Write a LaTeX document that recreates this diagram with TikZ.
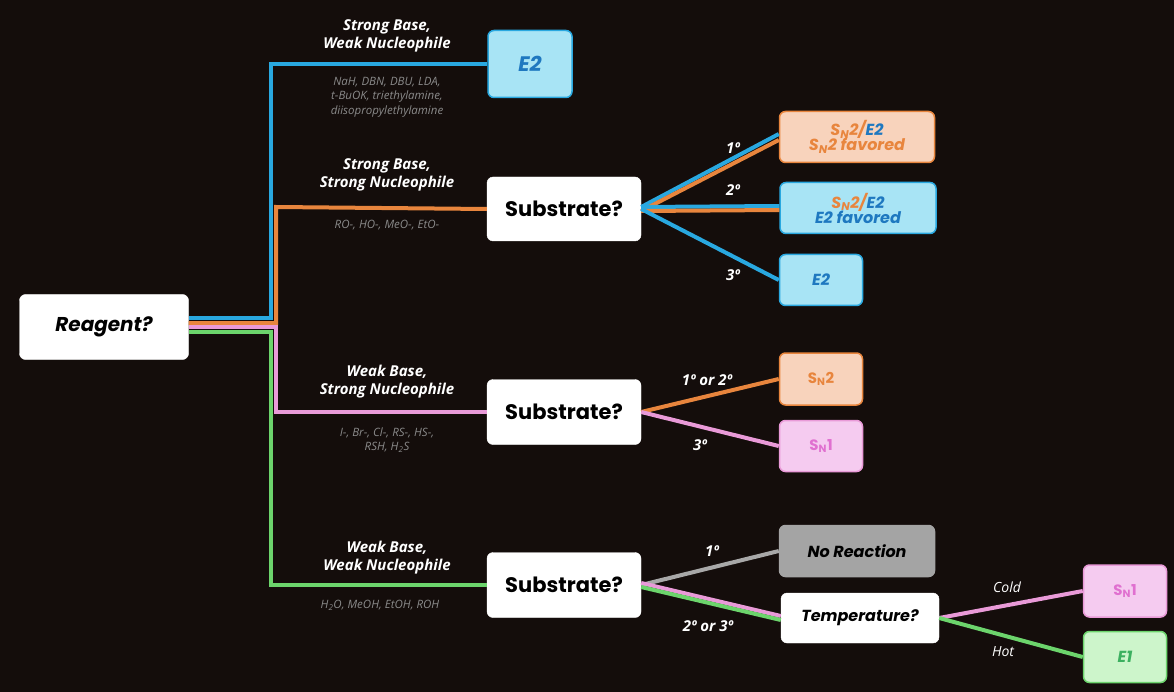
\documentclass[tikz,border=0pt]{standalone}
\usepackage{fontspec}
\setmainfont{Poppins}
\newfontfamily\lab{Open Sans}
\begin{document}
\definecolor{bg}{HTML}{140D0B}
\definecolor{cb}{HTML}{29A8E0}
\definecolor{co}{HTML}{E8853D}
\definecolor{cp}{HTML}{E99AD8}
\definecolor{cg}{HTML}{6CD46C}
\definecolor{cgr}{HTML}{A8A8A8}
\definecolor{fb}{HTML}{A8E4F5}
\definecolor{fo}{HTML}{F8D3BC}
\definecolor{fp}{HTML}{F5CBF0}
\definecolor{fg}{HTML}{CDF5CB}
\definecolor{fgr}{HTML}{A4A4A4}
\definecolor{tb}{HTML}{1E78C0}
\definecolor{tp}{HTML}{E070D0}
\definecolor{tg}{HTML}{3CB060}
\definecolor{gt}{HTML}{8A8A8A}
\begin{tikzpicture}[x=1pt,y=-1pt,
 box/.style={draw=#1,line width=1.5pt,rounded corners=6pt,inner sep=0pt,align=center},
 q/.style={fill=white,draw=white,rounded corners=6pt,inner sep=0pt,font=\fontsize{21}{24}\selectfont\bfseries},
 ln/.style={line width=4pt},
 lbl/.style={text=white,font=\lab\fontsize{15}{18}\selectfont\itshape\bfseries,align=center},
 sm/.style={text=gt,font=\lab\fontsize{11.5}{14.5}\selectfont\itshape,align=center},
 res/.style={font=\fontsize{16}{18}\selectfont\bfseries\itshape}]
\fill[bg] (0,0) rectangle (1174,692);
\useasboundingbox (0,0) rectangle (1174,692);
\node[q,minimum width=169,minimum height=65,font=\fontsize{20}{24}\selectfont\bfseries\itshape] (reag) at (104,327) {Reagent?};
\node[box=cb,fill=fb,minimum width=84,minimum height=67,text=tb,font=\fontsize{21}{24}\selectfont\bfseries\itshape] (e2a) at (530,64) {E2};
\node[q,minimum width=154,minimum height=64] (s1) at (564,209) {Substrate?};
\node[q,minimum width=154,minimum height=65] (s2) at (564,412) {Substrate?};
\node[q,minimum width=154,minimum height=65] (s3) at (564,585) {Substrate?};
\node[box=co,fill=fo,minimum width=155,minimum height=51,res] (r1) at (857,137) {\textcolor{co}{S\textsubscript{N}2/}\textcolor{tb}{E2}\\[-3pt]\textcolor{co}{S\textsubscript{N}2 favored}};
\node[box=cb,fill=fb,minimum width=156,minimum height=51,res] (r2) at (858,208) {\textcolor{co}{S\textsubscript{N}2/}\textcolor{tb}{E2}\\[-3pt]\textcolor{tb}{E2 favored}};
\node[box=cb,fill=fb,minimum width=83,minimum height=51,res,text=tb] (r3) at (821,280) {E2};
\node[box=co,fill=fo,minimum width=83,minimum height=52,text=co,font=\fontsize{15}{17}\selectfont\bfseries] (r4) at (821,379) {S\textsubscript{N}2};
\node[box=cp,fill=fp,minimum width=83,minimum height=51,text=tp,font=\fontsize{15}{17}\selectfont\bfseries] (r5) at (821,446) {S\textsubscript{N}1};
\node[box=fgr,fill=fgr,minimum width=155,minimum height=51,text=black,font=\fontsize{16}{18}\selectfont\bfseries\itshape] (nr) at (857,551) {No Reaction};
\node[q,minimum width=158,minimum height=50,font=\fontsize{16}{18}\selectfont\bfseries\itshape] (temp) at (860,618) {Temperature?};
\node[box=cp,fill=fp,minimum width=83,minimum height=52,text=tp,font=\fontsize{15}{17}\selectfont\bfseries] (r6) at (1125,591) {S\textsubscript{N}1};
\node[box=cg,fill=fg,minimum width=83,minimum height=51,res,text=tg] (r7) at (1125,657) {E1};
% trunk
\draw[ln,cb] ([yshift=9]reag.east) -| (271,64) -- (e2a.west);
\draw[ln,co] ([yshift=4]reag.east) -| (276,207) -- (s1.west);
\draw[ln,cp] ([yshift=0]reag.east) -| (276,412) -- (s2.west);
\draw[ln,cg] ([yshift=-5]reag.east) -| (271,585) -- (s3.west);
% labels
\node[lbl] (l1) at (387,36) {Strong Base,\\Weak Nucleophile};
\node[sm] (m1) at (387,97) {NaH, DBN, DBU, LDA,\\t-BuOK, triethylamine,\\diisopropylethylamine};
\node[lbl] (l2) at (387,175) {Strong Base,\\Strong Nucleophile};
\node[sm] (m2) at (387,225) {RO-, HO-, MeO-, EtO-};
\node[lbl] (l3) at (387,382) {Weak Base,\\Strong Nucleophile};
\node[sm] (m3) at (387,440) {I-, Br-, Cl-, RS-, HS-,\\RSH, H\textsubscript{2}S};
\node[lbl] (l4) at (387,558) {Weak Base,\\Weak Nucleophile};
\node[sm] (m4) at (380,605) {H\textsubscript{2}O, MeOH, EtOH, ROH};
% substrate 1
\draw[ln,cb] ([yshift=2]s1.east) -- ([yshift=3]r1.west);
\draw[ln,co] ([yshift=-2]s1.east) -- ([yshift=-3]r1.west);
\draw[ln,cb] ([yshift=2]s1.east) -- ([yshift=2]r2.west);
\draw[ln,co] ([yshift=-2]s1.east) -- ([yshift=-2]r2.west);
\draw[ln,cb] (s1.east) -- (r3.west);
\node[lbl] (d1) at (733,148) {1º};
\node[lbl] (d2) at (733,190) {2º};
\node[lbl] (d3) at (733,275) {3º};
% substrate 2
\draw[ln,co] (s2.east) -- (r4.west);
\draw[ln,cp] (s2.east) -- (r5.west);
\node[lbl] (d4) at (707,380) {1º or 2º};
\node[lbl] (d5) at (700,445) {3º};
% substrate 3
\draw[ln,cgr] (s3.east) -- (nr.west);
\draw[ln,cp] ([yshift=2]s3.east) -- ([yshift=2]temp.west);
\draw[ln,cg] ([yshift=-2]s3.east) -- ([yshift=-2]temp.west);
\node[lbl] (d6) at (712,551) {1º};
\node[lbl] (d7) at (708,626) {2º or 3º};
\draw[ln,cp] (temp.east) -- (r6.west);
\draw[ln,cg] (temp.east) -- (r7.west);
\node[lbl,font=\lab\fontsize{14}{16}\selectfont\itshape] (c) at (1007,587) {Cold};
\node[lbl,font=\lab\fontsize{14}{16}\selectfont\itshape] (h) at (1003,652) {Hot};
\end{tikzpicture}
\end{document}
